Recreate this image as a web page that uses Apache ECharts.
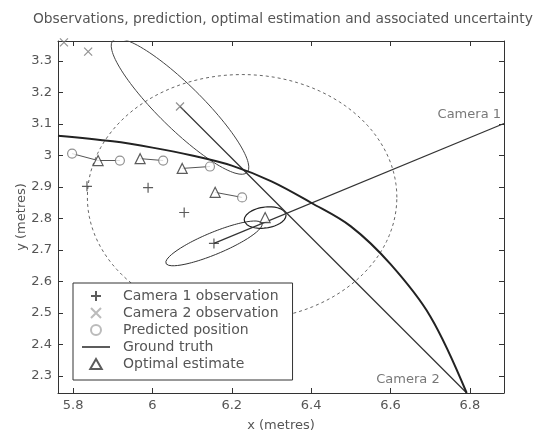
<!DOCTYPE html>
<html>
<head>
<meta charset="utf-8">
<script src="https://cdn.jsdelivr.net/npm/echarts@6/dist/echarts.min.js"></script>
<style>
  html, body { margin: 0; padding: 0; background: #fff; }
  #chart { width: 534px; height: 433px; }
</style>
</head>
<body>
<div id="chart"></div>
<script>
// Axis ranges and tick positions (metres)
const xRange = [5.762, 6.886];
const yRange = [2.246, 3.3635];
const xTicks = [5.8, 6, 6.2, 6.4, 6.6, 6.8];
const yTicks = [2.3, 2.4, 2.5, 2.6, 2.7, 2.8, 2.9, 3, 3.1, 3.2, 3.3];

// True trajectory of the target
const groundTruthX = [5.762, 5.9, 6.0, 6.1, 6.2, 6.3, 6.4, 6.5, 6.6, 6.7, 6.792];
const groundTruthY = [3.063, 3.045, 3.025, 3.0, 2.968, 2.918, 2.85, 2.775, 2.655, 2.49, 2.246];

// Camera observations
const cam1ObsX = [5.835, 5.989, 6.080, 6.155];
const cam1ObsY = [2.902, 2.898, 2.819, 2.721];
const cam2ObsX = [5.777, 5.838, 6.0695];
const cam2ObsY = [3.359, 3.330, 3.1556];

// Kalman filter: predicted positions and optimal estimates
const predX = [5.7975, 5.918, 6.027, 6.145, 6.226];
const predY = [3.006, 2.984, 2.984, 2.965, 2.867];
const estX = [5.863, 5.969, 6.075, 6.158, 6.284];
const estY = [2.984, 2.990, 2.959, 2.883, 2.803];

// Camera positions
const camera1Pos = [6.886, 3.1016];
const camera2Pos = [6.792, 2.246];

// Uncertainty ellipses of the latest step: two half-axis vectors (metres)
const predEllipseAxes = [[0.39, 0], [0, 0.39]];
const cam1EllipseAxes = [[0.121, 0.0635], [-0.0106, 0.032]];
const cam2EllipseAxes = [[-0.169, 0.2095], [0.0388, 0.0495]];
const estEllipseAxes = [[0.052, 0.012], [-0.008, 0.032]];

const FONT = 'DejaVu Sans';
const zip = (xs, ys) => xs.map((x, i) => [x, ys[i]]);
const last = a => a[a.length - 1];

function ellipse(center, axes) {
  const pts = [];
  const n = 120;
  for (let i = 0; i <= n; i++) {
    const t = (2 * Math.PI * i) / n;
    pts.push([
      center[0] + Math.cos(t) * axes[0][0] + Math.sin(t) * axes[1][0],
      center[1] + Math.cos(t) * axes[0][1] + Math.sin(t) * axes[1][1]
    ]);
  }
  return pts;
}

const predPts = zip(predX, predY);
const estPts = zip(estX, estY);
const cam1Pts = zip(cam1ObsX, cam1ObsY);
const cam2Pts = zip(cam2ObsX, cam2ObsY);

// Motion segments: first prediction to first estimate, then each estimate to the next prediction
const trackSegments = [{ coords: [predPts[0], estPts[0]] }];
for (let i = 0; i + 1 < predPts.length; i++) {
  trackSegments.push({ coords: [estPts[i], predPts[i + 1]] });
}

const plusPath = 'path://M0,5L10,5M5,0L5,10';
const crossPath = 'path://M0,0L10,10M10,0L0,10';
const trianglePath = 'path://M5,0L10,8.7L0,8.7Z';
const linePath = 'path://M0,0L28,0L28,1.6L0,1.6Z';

function outline(name, pts, color, width, type) {
  return {
    name, type: 'line', data: pts, symbol: 'none', silent: true,
    lineStyle: { color, width, type: type || 'solid' }, z: 2
  };
}

const chart = echarts.init(document.getElementById('chart'), null, { renderer: 'canvas' });

const axisCommon = {
  type: 'value',
  splitLine: { show: false },
  axisLine: { show: true, onZero: false, lineStyle: { color: '#333', width: 1 } }
};

chart.setOption({
  animation: false,
  backgroundColor: '#fff',
  title: {
    text: 'Observations, prediction, optimal estimation and associated uncertainty',
    left: 28, top: 7,
    textStyle: { fontFamily: FONT, fontSize: 13.8, fontWeight: 'normal', color: '#555' }
  },
  grid: { left: 58, right: 30, top: 41, bottom: 40, outerBoundsMode: 'none' },
  xAxis: [
    Object.assign({}, axisCommon, {
      position: 'bottom', min: xRange[0], max: xRange[1],
      name: 'x (metres)', nameLocation: 'middle', nameGap: 26,
      nameTextStyle: { fontFamily: FONT, fontSize: 13, color: '#555' },
      axisTick: { inside: true, length: 5, customValues: xTicks, lineStyle: { color: '#333' } },
      axisLabel: { customValues: xTicks, margin: 6, fontFamily: FONT, fontSize: 13, color: '#555',
                   formatter: v => String(+v.toFixed(2)) }
    }),
    Object.assign({}, axisCommon, {
      position: 'top', min: xRange[0], max: xRange[1],
      axisTick: { inside: true, length: 5, customValues: xTicks, lineStyle: { color: '#333' } },
      axisLabel: { show: false }
    })
  ],
  yAxis: [
    Object.assign({}, axisCommon, {
      position: 'left', min: yRange[0], max: yRange[1],
      name: 'y (metres)', nameLocation: 'middle', nameGap: 30, nameMoveOverlap: false,
      nameTextStyle: { fontFamily: FONT, fontSize: 13, color: '#555' },
      axisTick: { inside: true, length: 5, customValues: yTicks, lineStyle: { color: '#333' } },
      axisLabel: { customValues: yTicks, margin: 6, fontFamily: FONT, fontSize: 13, color: '#555',
                   formatter: v => String(+v.toFixed(2)) }
    }),
    Object.assign({}, axisCommon, {
      position: 'right', min: yRange[0], max: yRange[1],
      axisTick: { inside: true, length: 5, customValues: yTicks, lineStyle: { color: '#333' } },
      axisLabel: { show: false }
    })
  ],
  legend: {
    orient: 'vertical', left: 73, top: 283,
    backgroundColor: '#fff', borderColor: '#333', borderWidth: 1,
    padding: [6, 14, 9, 9], itemGap: 3, itemWidth: 28, itemHeight: 10,
    textStyle: { fontFamily: FONT, fontSize: 14, color: '#555', padding: [0, 0, 0, 8] },
    data: [
      { name: 'Camera 1 observation', icon: plusPath },
      { name: 'Camera 2 observation', icon: crossPath, itemStyle: { borderColor: '#aaa' } },
      { name: 'Predicted position', icon: 'circle', itemStyle: { borderColor: '#aaa' } },
      { name: 'Ground truth', icon: linePath, itemStyle: { color: '#333' } },
      { name: 'Optimal estimate', icon: trianglePath }
    ]
  },
  series: [
    outline('Predicted uncertainty', ellipse(last(predPts), predEllipseAxes), '#666', 1, [3, 3]),
    outline('Camera 2 uncertainty', ellipse(last(cam2Pts), cam2EllipseAxes), '#444', 1),
    outline('Camera 1 uncertainty', ellipse(last(cam1Pts), cam1EllipseAxes), '#333', 1),
    outline('Estimate uncertainty', ellipse(last(estPts), estEllipseAxes), '#222', 1.2),
    outline('Camera 1 ray', [camera1Pos, last(cam1Pts)], '#333', 1.2),
    outline('Camera 2 ray', [camera2Pos, last(cam2Pts)], '#333', 1.2),
    {
      name: 'Track', type: 'lines', coordinateSystem: 'cartesian2d', silent: true,
      data: trackSegments, lineStyle: { color: '#555', width: 1, opacity: 1 }, z: 2
    },
    {
      name: 'Ground truth', type: 'line', data: zip(groundTruthX, groundTruthY),
      smooth: 0.35, symbol: 'none', lineStyle: { color: '#222', width: 2 },
      itemStyle: { color: '#222' }, z: 3
    },
    {
      name: 'Camera 1 observation', type: 'scatter', data: cam1Pts, symbol: plusPath, symbolSize: 10,
      itemStyle: { color: 'transparent', borderColor: '#333', borderWidth: 1.2 }, z: 4
    },
    {
      name: 'Camera 2 observation', type: 'scatter', data: cam2Pts, symbol: crossPath, symbolSize: 8,
      itemStyle: { color: 'transparent', borderColor: '#777', borderWidth: 1.2 }, z: 4
    },
    {
      name: 'Predicted position', type: 'scatter', data: predPts, symbol: 'circle', symbolSize: 9,
      itemStyle: { color: '#fff', borderColor: '#777', borderWidth: 1.2 }, z: 4
    },
    {
      name: 'Optimal estimate', type: 'scatter', data: estPts, symbol: trianglePath, symbolSize: 10,
      itemStyle: { color: '#fff', borderColor: '#333', borderWidth: 1.2 }, z: 5
    },
    {
      name: 'Cameras', type: 'scatter', symbolSize: 0, silent: true, z: 6,
      data: [
        { value: camera1Pos, label: { show: true, formatter: 'Camera 1', position: 'left', distance: 3, offset: [0, -9] } },
        { value: camera2Pos, label: { show: true, formatter: 'Camera 2', position: 'left', distance: 27, offset: [0, -13] } }
      ],
      label: { fontFamily: FONT, fontSize: 13, color: '#555' }
    }
  ]
});
</script>
</body>
</html>
